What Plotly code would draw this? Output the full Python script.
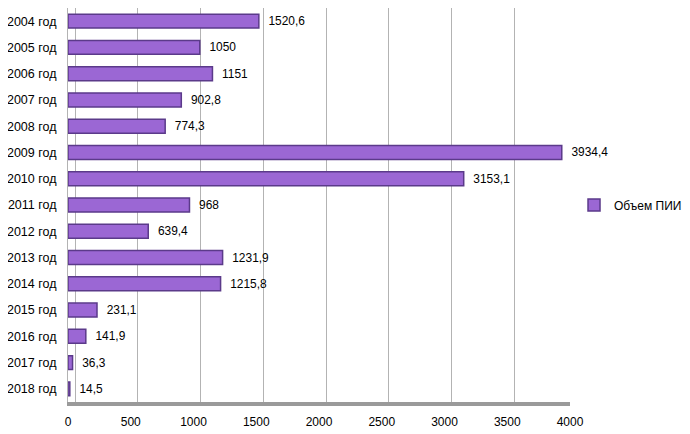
import plotly.graph_objects as go

years = ["2004 год", "2005 год", "2006 год", "2007 год", "2008 год", "2009 год", "2010 год",
         "2011 год", "2012 год", "2013 год", "2014 год", "2015 год", "2016 год", "2017 год", "2018 год"]
values = [1520.6, 1050, 1151, 902.8, 774.3, 3934.4, 3153.1, 968, 639.4, 1231.9, 1215.8, 231.1, 141.9, 36.3, 14.5]
series_name = "Объем ПИИ"
x_ticks = [0, 500, 1000, 1500, 2000, 2500, 3000, 3500, 4000]

labels = ["\u00a0\u00a0" + (f"{v:g}").replace(".", ",") for v in values]

FONT = "Liberation Sans, Arial, sans-serif"
# back-wall gridlines in the 3D original sit ~7px right of the tick positions
px_per_unit = 502 / 4000
shift = 7 / px_per_unit

fig = go.Figure()
# invisible trace on an overlay axis that carries the offset back-wall grid
fig.add_trace(go.Scatter(
    y=years, x=values, xaxis="x2", mode="none", showlegend=False, hoverinfo="skip",
))
fig.add_trace(go.Bar(
    y=years, x=values, orientation="h", name=series_name,
    marker=dict(color="#9b67d4", line=dict(color="#5b3a8a", width=1.5)),
    text=labels, textposition="outside", cliponaxis=False,
    textfont=dict(family=FONT, size=12, color="#000000"),
))

# the page body adds an 8px offset, so the figure is 8px smaller than the window
fig.update_layout(
    width=682, height=426,
    margin=dict(l=60, r=120, t=0, b=32, autoexpand=False),
    paper_bgcolor="white", plot_bgcolor="white",
    font=dict(family=FONT, size=12, color="#000000"),
    bargap=0.47,
    showlegend=True,
    legend=dict(x=1.008, y=0.5, xanchor="left", yanchor="middle", font=dict(size=12),
                itemwidth=30),
    xaxis=dict(range=[0, 4000], tickvals=x_ticks, showgrid=False,
               zeroline=False, showline=True, linecolor="#9a9a9a", linewidth=4,
               ticks="", ticklabelstandoff=6),
    xaxis2=dict(range=[-shift, 4000 - shift], overlaying="x", anchor="y", side="bottom",
                tickvals=x_ticks, showgrid=True, gridcolor="#b3b3b3", gridwidth=1,
                showticklabels=False, zeroline=False, showline=False, ticks=""),
    yaxis=dict(categoryorder="array", categoryarray=years,
               range=[len(years) - 0.5, -0.5], autorange=False,
               showgrid=False, showline=True, linecolor="#b3b3b3", linewidth=1,
               ticks="", ticklabelstandoff=8, tickfont=dict(size=12.5)),
)

fig.write_html("out.html")
